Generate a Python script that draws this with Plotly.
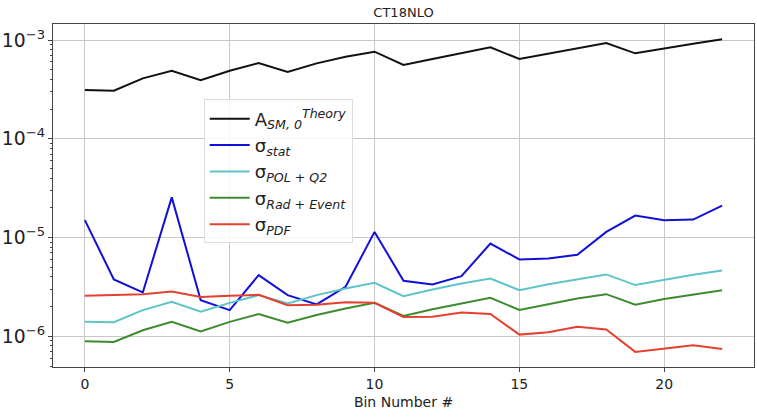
import plotly.graph_objects as go

bins = list(range(23))

theory = [3.11e-4, 3.06e-4, 4.09e-4, 4.89e-4, 3.91e-4, 4.89e-4, 5.85e-4, 4.74e-4, 5.8e-4, 6.78e-4,
          7.61e-4, 5.58e-4, 6.42e-4, 7.33e-4, 8.43e-4, 6.42e-4, 7.27e-4, 8.24e-4, 9.33e-4, 7.33e-4,
          8.24e-4, 9.18e-4, 1.016e-3]
sig_stat = [1.5e-5, 3.76e-6, 2.78e-6, 2.55e-5, 2.32e-6, 1.84e-6, 4.16e-6, 2.61e-6, 2.1e-6, 3.17e-6,
            1.14e-5, 3.65e-6, 3.35e-6, 4.06e-6, 8.7e-6, 6.0e-6, 6.14e-6, 6.69e-6, 1.14e-5, 1.67e-5,
            1.5e-5, 1.52e-5, 2.1e-5]
sig_pol = [1.4e-6, 1.39e-6, 1.84e-6, 2.23e-6, 1.77e-6, 2.18e-6, 2.61e-6, 2.15e-6, 2.61e-6, 3.05e-6,
           3.48e-6, 2.55e-6, 2.98e-6, 3.43e-6, 3.85e-6, 2.93e-6, 3.37e-6, 3.78e-6, 4.23e-6, 3.3e-6,
           3.74e-6, 4.2e-6, 4.63e-6]
sig_rad = [8.9e-7, 8.75e-7, 1.15e-6, 1.4e-6, 1.12e-6, 1.4e-6, 1.68e-6, 1.37e-6, 1.64e-6, 1.91e-6,
           2.18e-6, 1.61e-6, 1.88e-6, 2.16e-6, 2.45e-6, 1.85e-6, 2.13e-6, 2.41e-6, 2.67e-6, 2.09e-6,
           2.38e-6, 2.65e-6, 2.93e-6]
sig_pdf = [2.57e-6, 2.63e-6, 2.67e-6, 2.84e-6, 2.5e-6, 2.57e-6, 2.63e-6, 2.06e-6, 2.09e-6, 2.21e-6,
           2.18e-6, 1.57e-6, 1.58e-6, 1.74e-6, 1.68e-6, 1.04e-6, 1.1e-6, 1.25e-6, 1.17e-6, 6.95e-7,
           7.5e-7, 8.1e-7, 7.45e-7]

series = [
    ("A<sub><i>SM, 0</i></sub><sup><i>Theory</i></sup>", theory, "#111111"),
    ("σ<sub><i>stat</i></sub>", sig_stat, "#1010d8"),
    ("σ<sub><i>POL + Q2</i></sub>", sig_pol, "#5ec4c8"),
    ("σ<sub><i>Rad + Event</i></sub>", sig_rad, "#3d8b2f"),
    ("σ<sub><i>PDF</i></sub>", sig_pdf, "#e5402f"),
]

fig = go.Figure()
for name, vals, color in series:
    fig.add_trace(go.Scatter(x=bins, y=vals, mode="lines", name=name,
                             line=dict(color=color, width=2)))

font = "DejaVu Sans, sans-serif"
fig.update_layout(
    width=757, height=418,
    margin=dict(l=52, r=2, t=24, b=51),
    paper_bgcolor="white", plot_bgcolor="white",
    font=dict(family=font, color="#222222"),
    title=dict(text="CT18NLO", x=0.5, xref="paper", xanchor="center",
               y=1 - 12 / 418, yanchor="middle", font=dict(size=13, color="#222222")),
    legend=dict(x=0.215, y=0.78, xanchor="left", yanchor="top",
                bgcolor="rgba(255,255,255,0.85)", bordercolor="#dddddd", borderwidth=1,
                font=dict(size=18, family=font, color="#222222"), tracegroupgap=0,
                itemwidth=40),
    showlegend=True,
)
fig.update_xaxes(
    range=[-1.1, 23.1], tickvals=[0, 5, 10, 15, 20], ticks="outside", ticklen=4,
    tickfont=dict(size=14), showgrid=True, gridcolor="#c8c8c8", gridwidth=1,
    showline=True, linecolor="#444444", linewidth=1, mirror=True, zeroline=False,
    title=dict(text="Bin Number #", font=dict(size=14), standoff=6),
)
fig.update_yaxes(
    type="log", range=[-6.311, -2.838], dtick=1, exponentformat="power",
    ticks="outside", ticklen=4, tickfont=dict(size=15),
    showgrid=True, gridcolor="#c8c8c8", gridwidth=1,
    showline=True, linecolor="#444444", linewidth=1, mirror=True, zeroline=False,
    minor=dict(ticks="outside", ticklen=2, dtick="D1", showgrid=False, tickcolor="#444444"),
)

fig.write_html("out.html")
